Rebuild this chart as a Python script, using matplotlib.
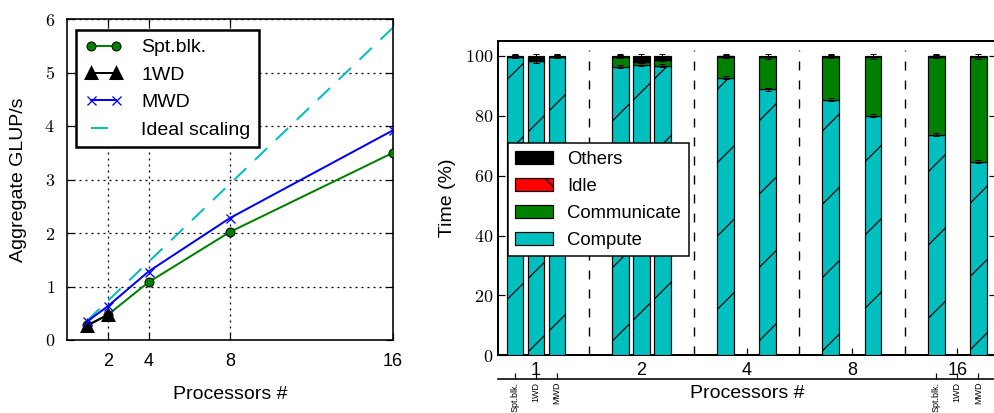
import matplotlib
matplotlib.use("Agg")
import numpy as np
import matplotlib.pyplot as plt
from matplotlib.ticker import FuncFormatter

DPI = 220


def px(v):
    # sizes below are given in pixels of the saved png
    return v * 72.0 / DPI


plt.rcParams["font.family"] = ["Liberation Sans", "DejaVu Sans"]
plt.rcParams["mathtext.fontset"] = "cm"
plt.rcParams["hatch.linewidth"] = px(1.2)
plt.rcParams["lines.scale_dashes"] = False

# ---- scaling (left) ----
procs = [1, 2, 4, 8, 16]
spt_blk = [0.28, 0.47, 1.08, 2.02, 3.50]
one_wd_procs = [1, 2]
one_wd = [0.27, 0.47]
mwd = [0.35, 0.63, 1.28, 2.28, 3.92]
ideal = [0.365, 0.73, 1.46, 2.92, 5.84]

# ---- time breakdown (right) ----
groups = ["1", "2", "4", "8", "16"]
methods = ["Spt.blk.", "1WD", "MWD"]
bar_group = [0, 0, 0, 1, 1, 1, 2, 2, 3, 3, 4, 4]
bar_slot = [0, 1, 2, 0, 1, 2, 0, 2, 0, 2, 0, 2]
compute = [99.7, 98.2, 99.7, 96.4, 97.0, 96.8, 92.8, 88.8, 85.4, 80.0, 73.6, 64.6]
communicate = [0.0, 0.0, 0.0, 3.3, 1.0, 2.0, 7.0, 10.7, 14.4, 19.5, 26.2, 34.9]
idle = [0.1, 0.0, 0.1, 0.1, 0.0, 0.0, 0.1, 0.0, 0.0, 0.0, 0.1, 0.0]
others = [0.2, 1.8, 0.2, 0.2, 2.0, 1.2, 0.1, 0.5, 0.2, 0.5, 0.1, 0.5]
labelled_groups = [0, 4]

CYAN = "#00bfbf"
GREEN = "#008000"

fig = plt.figure(figsize=(994 / DPI, 413 / DPI), dpi=DPI)

tick_font = px(18)
label_font = px(19.5)
fmt = FuncFormatter(lambda v, p: "$%d$" % v)

# =========================== left panel ===========================
ax1 = fig.add_axes([67 / 994, 73 / 413, 326 / 994, 321 / 413])
lw = px(2)
ax1.plot(procs, ideal, color=CYAN, lw=lw, dashes=(px(17), px(12)), zorder=2)
l_spt, = ax1.plot(procs, spt_blk, color=GREEN, lw=lw, marker="o", ms=px(9),
                  mfc=GREEN, mec="k", mew=px(1), zorder=3)
l_1wd, = ax1.plot(one_wd_procs, one_wd, color="k", lw=lw, marker="^", ms=px(10),
                  mfc="k", mec="k", zorder=4)
l_mwd, = ax1.plot(procs, mwd, color="b", lw=lw, marker="x", ms=px(9),
                  mew=px(1.3), zorder=5)
l_ideal, = ax1.plot([], [], color=CYAN, lw=lw, dashes=(px(17), px(12)))

ax1.set_xlim(0, 16)
ax1.set_ylim(0, 6)
ax1.set_xticks([2, 4, 8, 16])
ax1.set_yticks(range(0, 7))
ax1.yaxis.set_major_formatter(fmt)
ax1.grid(True, color="k", lw=px(1.3), linestyle=(0, (px(2), px(4))))
ax1.tick_params(direction="in", top=True, right=True, length=px(7),
                width=px(1.2), labelsize=tick_font)
ax1.tick_params(axis="x", pad=px(13))
ax1.tick_params(axis="y", pad=px(12))
for s in ax1.spines.values():
    s.set_linewidth(px(1.6))
ax1.set_xlabel("Processors #", fontsize=label_font)
ax1.xaxis.set_label_coords(0.5, -0.144)
ax1.set_ylabel("Aggregate GLUP/s", fontsize=label_font)
ax1.yaxis.set_label_coords(-0.123, 0.5)

leg1 = ax1.legend([l_spt, l_1wd, l_mwd, l_ideal],
                  ["Spt.blk.", "1WD", "MWD", "Ideal scaling"],
                  loc="upper left", bbox_to_anchor=(0.0276, 0.966),
                  borderaxespad=0, fontsize=label_font, numpoints=2,
                  handlelength=1.9, handletextpad=1.0, labelspacing=0.5,
                  borderpad=0.45, fancybox=False, framealpha=1)
leg1.get_frame().set_edgecolor("k")
leg1.get_frame().set_linewidth(px(2.5))

# =========================== right panel ===========================
ax2 = fig.add_axes([498.3 / 994, 57.7 / 413, 498 / 994, 314.3 / 413])
x = np.array(bar_group) + (np.array(bar_slot) - 1) * 0.2
width = 0.16
ekw = dict(ecolor="k", capsize=px(3), elinewidth=px(1), capthick=px(1))
bottom = np.zeros(len(x))
handles = []
for vals, color, hatch in [(compute, CYAN, "/"), (communicate, GREEN, None),
                           (idle, "r", "\\"), (others, "k", None)]:
    b = ax2.bar(x, vals, width, bottom=bottom, color=color, edgecolor="k",
                lw=px(1.2), hatch=hatch, yerr=0.5, error_kw=ekw, zorder=3)
    handles.append(b)
    bottom = bottom + np.array(vals)

mids = np.arange(len(groups) - 1) + 0.5
ax2.vlines(mids, 0, 102, colors="k", lw=px(1.4), linestyles=[(0, (px(9), px(10)))],
           zorder=2)

ax2.set_xlim(-0.358, 4.371)
ax2.set_ylim(0, 105)
ax2.set_xticks(range(len(groups)))
ax2.set_xticklabels(groups)
ax2.set_yticks(range(0, 101, 20))
ax2.yaxis.set_major_formatter(fmt)
ax2.tick_params(direction="in", top=False, right=True, length=px(7),
                width=px(1.2), labelsize=tick_font)
ax2.tick_params(axis="x", pad=px(7))
ax2.tick_params(axis="y", pad=px(5))
for s in ax2.spines.values():
    s.set_linewidth(px(2))
ax2.set_ylabel("Time (%)", fontsize=label_font)
ax2.yaxis.set_label_coords(-0.085, 0.5)
ax2.text(0.5, -0.12, "Processors #", transform=ax2.transAxes,
         ha="center", va="center", fontsize=label_font)

leg2 = ax2.legend(handles[::-1], ["Others", "Idle", "Communicate", "Compute"],
                  loc="upper left", bbox_to_anchor=(0.0185, 0.675),
                  borderaxespad=0, fontsize=px(18.5), handlelength=2.05,
                  handletextpad=0.78, labelspacing=0.55, borderpad=0.4,
                  fancybox=False, framealpha=1)
leg2.get_frame().set_edgecolor("k")
leg2.get_frame().set_linewidth(px(1.5))
leg2.set_zorder(10)

# second row of x labels: method names under the first and last group
ax3 = ax2.twiny()
ax3.set_xlim(ax2.get_xlim())
ax3.xaxis.set_ticks_position("bottom")
ax3.spines["bottom"].set_position(("outward", px(23.7)))
ax3.spines["bottom"].set_linewidth(px(1.6))
for side in ["top", "left", "right"]:
    ax3.spines[side].set_visible(False)
pos, names = [], []
for g in labelled_groups:
    for k, m in enumerate(methods):
        pos.append(g + (k - 1) * 0.2)
        names.append(m)
ax3.set_xticks(pos)
ax3.set_xticklabels(names, rotation=90, fontsize=px(9), va="top")
ax3.tick_params(axis="x", direction="in", length=px(6), width=px(1.2), pad=px(3))

fig.savefig("out.png", dpi=DPI)
